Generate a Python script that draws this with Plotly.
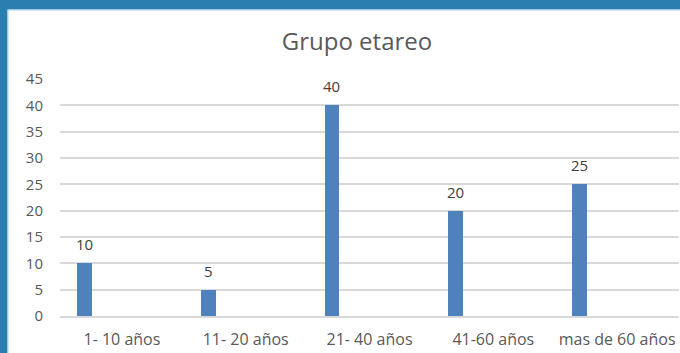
import plotly.graph_objects as go

categories = ["1- 10 años", "11- 20 años", "21- 40 años", "41-60 años", "mas de 60 años"]
values = [10, 5, 40, 20, 25]
title_text = "Grupo etareo"

W, H = 680, 353
L, R, T, B = 60, 1, 79, 37
pw = W - L - R
ph = H - T - B
BAR_W = 0.12
BAR_OFF = -0.363

def px(xp):
    return (xp - L) / pw

def py(yp):
    return (H - B - yp) / ph

FONT = "Open Sans, sans-serif"

fig = go.Figure()
fig.add_trace(go.Bar(
    x=categories, y=values,
    marker=dict(color="#4F81BD", line=dict(width=0)),
    width=BAR_W, offset=BAR_OFF,
    hoverinfo="x+y",
))

cat_px = pw / len(categories)
annotations = [
    dict(x=c, y=v, xref="x", yref="y", text=str(v), showarrow=False,
         xshift=(BAR_OFF + BAR_W / 2) * cat_px, yshift=7, yanchor="bottom", xanchor="center",
         font=dict(family=FONT, size=15, color="#404040"))
    for c, v in zip(categories, values)
]

shapes = [
    dict(type="rect", xref="paper", yref="paper", x0=px(0), x1=px(W), y0=py(0), y1=py(9.5),
         fillcolor="#2A7FB0", line=dict(width=0), layer="above"),
    dict(type="rect", xref="paper", yref="paper", x0=px(7.5), x1=px(W), y0=py(9.5), y1=py(10.5),
         fillcolor="#A9D3EC", line=dict(width=0), layer="above"),
    dict(type="rect", xref="paper", yref="paper", x0=px(0), x1=px(7.5), y0=py(0), y1=py(H),
         fillcolor="#2A7FB0", line=dict(width=0), layer="above"),
    dict(type="rect", xref="paper", yref="paper", x0=px(7.5), x1=px(8.5), y0=py(9.5), y1=py(H),
         fillcolor="#A9D3EC", line=dict(width=0), layer="above"),
]

fig.update_layout(
    width=W, height=H,
    margin=dict(l=L, r=R, t=T, b=B),
    paper_bgcolor="white", plot_bgcolor="white",
    showlegend=False,
    bargap=0,
    title=dict(text=title_text, x=357 / W, xanchor="center", y=1 - 42 / H, yanchor="middle",
               xref="container", yref="container",
               font=dict(family=FONT, size=24, color="#595959")),
    font=dict(family=FONT, size=15, color="#595959"),
    xaxis=dict(showgrid=False, showline=True, linecolor="#D9D9D9", linewidth=1.5,
               ticks="", ticklabelstandoff=8, tickfont=dict(size=16, color="#595959")),
    yaxis=dict(range=[0, 45], dtick=5, showgrid=True, gridcolor="#D9D9D9", gridwidth=1.5,
               zeroline=False, showline=False, ticks="", ticklabelstandoff=16,
               tickfont=dict(size=15, color="#595959")),
    shapes=shapes,
    annotations=annotations,
)

fig.write_html("out.html")
